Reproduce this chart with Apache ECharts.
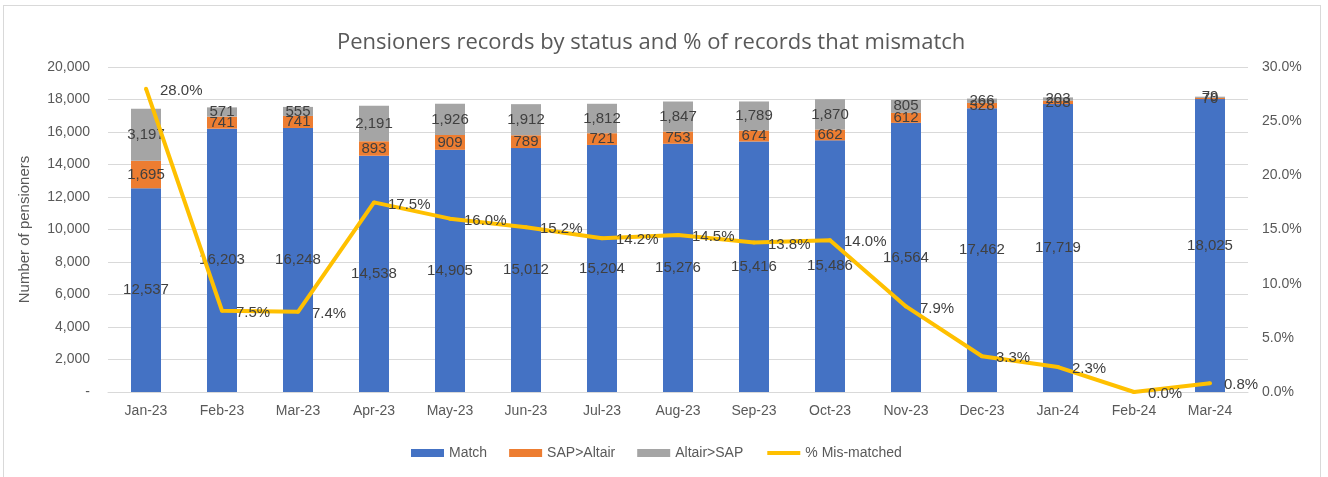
<!DOCTYPE html>
<html><head><meta charset="utf-8">
<script src="https://cdn.jsdelivr.net/npm/echarts@6/dist/echarts.min.js"></script>
<style>
html,body{margin:0;padding:0;background:#fff;}
#frame{position:absolute;left:3px;top:5px;width:1318px;height:490px;border:1px solid #d9d9d9;box-sizing:border-box;}
#chart{position:absolute;left:0;top:0;width:1328px;height:477px;}
</style></head>
<body>
<div id="frame"></div>
<div id="chart"></div>
<script>
const categories = ['Jan-23','Feb-23','Mar-23','Apr-23','May-23','Jun-23','Jul-23','Aug-23','Sep-23','Oct-23','Nov-23','Dec-23','Jan-24','Feb-24','Mar-24'];
const matchValues = [12537,16203,16248,14538,14905,15012,15204,15276,15416,15486,16564,17462,17719,0,18025];
const sapAltairValues = [1695,741,741,893,909,789,721,753,674,662,612,328,208,0,70];
const altairSapValues = [3197,571,555,2191,1926,1912,1812,1847,1789,1870,805,266,203,0,79];
const mismatchPct = [0.280,0.075,0.074,0.175,0.160,0.152,0.142,0.145,0.138,0.140,0.079,0.033,0.023,0.000,0.008];
const leftTicks = {min:0,max:20000,interval:2000};
const rightTicks = {min:0,max:0.3,interval:0.05};

const FONT = "'Liberation Sans', Arial, sans-serif";
const TITLE_FONT = "'Open Sans', 'Liberation Sans', sans-serif";
const fmtNum = v => v === 0 ? '-' : v.toLocaleString('en-US');
const barLabel = {show:true, position:'inside', color:'#404040', fontSize:15, fontFamily:FONT,
  formatter: p => fmtNum(p.value)};

const chart = echarts.init(document.getElementById('chart'));
chart.setOption({
  animation:false,
  textStyle:{fontFamily:FONT},
  title:{text:'Pensioners records by status and % of records that mismatch', left:332, top:27,
    textStyle:{fontSize:22, fontWeight:'normal', color:'#595959', fontFamily:TITLE_FONT}},
  grid:{left:108, right:80, top:67, bottom:85, containLabel:false},
  legend:{bottom:12, left:406, itemWidth:33, itemHeight:8, itemGap:22,
    textStyle:{color:'#595959', fontSize:14, fontFamily:FONT},
    data:[{name:'Match',icon:'rect'},{name:'SAP>Altair',icon:'rect'},{name:'Altair>SAP',icon:'rect'},
          {name:'% Mis-matched', itemStyle:{opacity:0}, lineStyle:{width:4, color:'#FFC000'}}]},
  xAxis:{type:'category', data:categories,
    axisLine:{lineStyle:{color:'#d9d9d9'}}, axisTick:{show:false},
    axisLabel:{color:'#595959', fontSize:14, margin:12, fontFamily:FONT}},
  yAxis:[
    {type:'value', min:leftTicks.min, max:leftTicks.max, interval:leftTicks.interval,
     name:'Number of pensioners', nameLocation:'middle', nameGap:76, nameRotate:90,
     nameTextStyle:{color:'#595959', fontSize:15, fontFamily:FONT},
     axisLabel:{color:'#595959', fontSize:14, margin:18, formatter:fmtNum},
     splitLine:{lineStyle:{color:'#d9d9d9'}}, axisLine:{show:false}, axisTick:{show:false}},
    {type:'value', min:rightTicks.min, max:rightTicks.max, interval:rightTicks.interval, position:'right',
     axisLabel:{color:'#595959', fontSize:14, margin:14, formatter:v=>(v*100).toFixed(1)+'%'},
     splitLine:{show:false}, axisLine:{show:false}, axisTick:{show:false}}
  ],
  series:[
    {name:'Match', type:'bar', stack:'s', barWidth:30, data:matchValues, itemStyle:{color:'#4472C4'}, label:barLabel},
    {name:'SAP>Altair', type:'bar', stack:'s', barWidth:30, data:sapAltairValues, itemStyle:{color:'#ED7D31'}, label:barLabel},
    {name:'Altair>SAP', type:'bar', stack:'s', barWidth:30, data:altairSapValues, itemStyle:{color:'#A5A5A5'}, label:barLabel},
    {name:'% Mis-matched', type:'line', yAxisIndex:1, data:mismatchPct, symbol:'circle', symbolSize:4, showSymbol:true,
     lineStyle:{color:'#FFC000', width:4}, itemStyle:{color:'#FFC000'},
     label:{show:true, position:'right', distance:12, offset:[0,2], color:'#404040', fontSize:15, fontFamily:FONT,
       formatter:p=>(p.value*100).toFixed(1)+'%'}}
  ]
});
</script>
</body></html>
